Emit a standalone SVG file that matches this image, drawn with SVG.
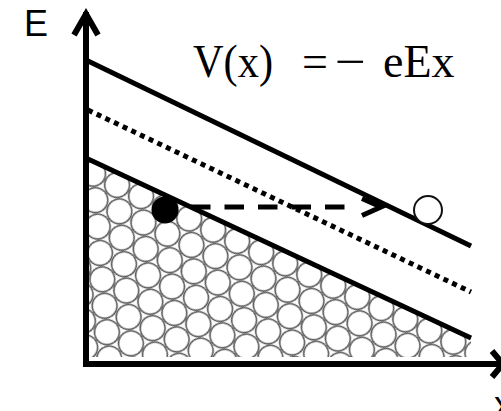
<svg xmlns="http://www.w3.org/2000/svg" width="501" height="411" viewBox="0 0 501 411">
<style>
.ax{stroke:#000;stroke-width:6;fill:none}
.ln{stroke:#000;stroke-width:5;fill:none}
.lab{font-family:"Liberation Sans",Arial,sans-serif;font-size:36px;fill:#000}
.eq{font-family:"Liberation Serif","Times New Roman",serif;font-size:46px;fill:#000}
.ball{fill:none;stroke:#555;stroke-width:1.6}
</style>
<defs>
<pattern id="hex" patternUnits="userSpaceOnUse" x="0" y="0" width="26.5" height="45.9" patternTransform="translate(100,253) rotate(25)">
<circle class="ball" cx="0" cy="0" r="12.4"/>
<circle class="ball" cx="26.5" cy="0" r="12.4"/>
<circle class="ball" cx="0" cy="45.9" r="12.4"/>
<circle class="ball" cx="26.5" cy="45.9" r="12.4"/>
<circle class="ball" cx="13.25" cy="22.95" r="12.4"/>
</pattern>
<clipPath id="sea"><polygon points="89,159 471,338 471,357 89,357"/></clipPath>
</defs>
<rect width="501" height="411" fill="#fff"/>
<g id="electrons">
<rect x="89" y="150" width="385" height="210" fill="url(#hex)" clip-path="url(#sea)"/>
</g>
<g id="bands">
<line class="ln" x1="88" y1="61" x2="471" y2="246"/>
<line class="ln" x1="88" y1="110" x2="471" y2="292" stroke-dasharray="5 4.6"/>
<line class="ln" x1="88" y1="159" x2="471" y2="338"/>
</g>
<g id="axes">
<line class="ax" x1="86" y1="364" x2="86" y2="15" stroke-linecap="square"/>
<polyline class="ax" points="74,35 86,14 98,35" stroke-linejoin="miter"/>
<line class="ax" x1="83" y1="364" x2="501" y2="364"/>
<polyline class="ax" points="492,351 503,364 492,377"/>
<text class="lab" x="24" y="36">E</text>
<text class="lab" x="494" y="417">x</text>
</g>
<g id="filled-electron"><circle cx="165" cy="210" r="13.5" fill="#000"/></g>
<g id="hole"><circle cx="428" cy="210" r="14" fill="#fff" stroke="#111" stroke-width="2"/></g>
<g id="connectors">
<line x1="191" y1="207" x2="346" y2="207" stroke="#000" stroke-width="5" stroke-dasharray="19.5 14"/>
<polyline points="362,198.5 381,207 362,215.5" fill="none" stroke="#000" stroke-width="5"/>
</g>
<g id="equation">
<text class="eq" y="77"><tspan x="193" textLength="80" lengthAdjust="spacingAndGlyphs">V(x)</tspan><tspan x="302">=</tspan><tspan x="335" textLength="31" lengthAdjust="spacingAndGlyphs">−</tspan><tspan x="383">eEx</tspan></text>
</g>
</svg>
